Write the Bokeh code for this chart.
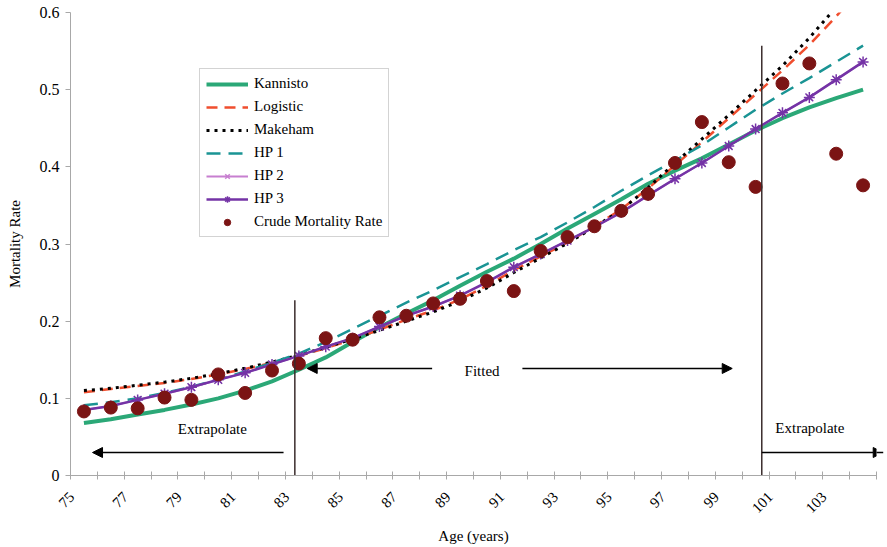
from bokeh.plotting import figure
from bokeh.models import FixedTicker, Arrow, NormalHead
from bokeh.core.properties import value
from bokeh.embed import file_html
from bokeh.resources import INLINE

# ---------------- data ----------------
ages = list(range(75, 105))

kannisto = [0.068, 0.073, 0.079, 0.085, 0.092, 0.100, 0.110, 0.122, 0.137, 0.153,
            0.173, 0.192, 0.210, 0.227, 0.246, 0.264, 0.281, 0.300, 0.320, 0.339,
            0.358, 0.378, 0.395, 0.411, 0.429, 0.447, 0.463, 0.477, 0.489, 0.500]

logistic = [0.108, 0.112, 0.116, 0.120, 0.125, 0.131, 0.138, 0.146, 0.155, 0.165,
            0.176, 0.189, 0.202, 0.214, 0.228, 0.246, 0.266, 0.284, 0.302, 0.323,
            0.345, 0.372, 0.402, 0.432, 0.463, 0.494, 0.525, 0.558, 0.595, 0.634]

makeham = [0.110, 0.113, 0.117, 0.121, 0.126, 0.132, 0.139, 0.147, 0.156, 0.166,
           0.177, 0.188, 0.200, 0.212, 0.226, 0.243, 0.263, 0.282, 0.301, 0.322,
           0.344, 0.373, 0.405, 0.436, 0.467, 0.499, 0.531, 0.567, 0.607, 0.650]

hp1 = [0.091, 0.095, 0.100, 0.107, 0.115, 0.124, 0.135, 0.146, 0.158, 0.173,
       0.190, 0.207, 0.224, 0.240, 0.257, 0.274, 0.292, 0.309, 0.328, 0.348,
       0.369, 0.389, 0.408, 0.428, 0.451, 0.474, 0.495, 0.515, 0.536, 0.557]

hp2 = [0.085, 0.090, 0.098, 0.106, 0.114, 0.124, 0.133, 0.144, 0.155, 0.167,
       0.178, 0.193, 0.207, 0.219, 0.233, 0.250, 0.270, 0.287, 0.304, 0.322,
       0.341, 0.363, 0.384, 0.405, 0.427, 0.449, 0.470, 0.490, 0.513, 0.536]

hp3 = [0.085, 0.090, 0.098, 0.106, 0.1145, 0.124, 0.133, 0.144, 0.155, 0.167,
       0.178, 0.193, 0.207, 0.219, 0.233, 0.2505, 0.270, 0.287, 0.3045, 0.322,
       0.341, 0.363, 0.3845, 0.405, 0.427, 0.449, 0.470, 0.490, 0.513, 0.536]

crude = [0.083, 0.088, 0.087, 0.101, 0.098, 0.131, 0.107, 0.136, 0.145, 0.178,
         0.176, 0.205, 0.207, 0.223, 0.229, 0.252, 0.239, 0.291, 0.309, 0.323,
         0.343, 0.365, 0.405, 0.458, 0.406, 0.374, 0.508, 0.534, 0.417, 0.376]

x_tick_ages = list(range(75, 104, 2))
x_tick_labels = [str(a) for a in x_tick_ages]
y_ticks = [0, 0.1, 0.2, 0.3, 0.4, 0.5, 0.6]
y_tick_labels = ["0", "0.1", "0.2", "0.3", "0.4", "0.5", "0.6"]

# fitted-range boundary lines (age position, top value)
bound_x = [82.85, 100.23]
bound_top = [0.227, 0.557]

# annotation texts
note_text = ["Extrapolate", "Fitted", "Extrapolate"]
note_x = [79.78, 89.82, 102.02]
note_y = [0.060, 0.136, 0.061]

# arrows: (x_start, x_end, y)
arrow_x0 = [82.43, 87.96, 91.32, 100.23]
arrow_x1 = [75.32, 83.31, 99.13, 104.75]
arrow_y = [0.0298, 0.1387, 0.1387, 0.0298]

SERIF = "'Liberation Serif', 'Times New Roman', serif"
LABEL_SHIFT = 0.45  # rotated labels sit slightly left of their category centre

p = figure(width=887, height=547, x_range=(74.5, 104.5), y_range=(0, 0.6),
           output_backend="svg", toolbar_location=None,
           min_border_left=70, min_border_right=11, min_border_top=12,
           min_border_bottom=72)
p.background_fill_color = "white"
p.border_fill_color = "white"
p.outline_line_color = None
p.xgrid.visible = False
p.ygrid.visible = False

AXC = "#a8a8a8"
# x axis
label_pos = [a - LABEL_SHIFT for a in x_tick_ages]
p.xaxis.ticker = FixedTicker(ticks=label_pos,
                             minor_ticks=[a - 0.5 for a in ages] + [ages[-1] + 0.5])
p.xaxis.major_label_overrides = {t: l for t, l in zip(label_pos, x_tick_labels)}
p.xaxis.major_tick_line_color = None
p.xaxis.major_tick_out = 0
p.xaxis.major_tick_in = 0
p.xaxis.minor_tick_line_color = AXC
p.xaxis.minor_tick_in = 4
p.xaxis.minor_tick_out = 4
p.xaxis.axis_line_color = AXC
p.xaxis.major_label_orientation = 0.785398
p.xaxis.major_label_standoff = 15
p.xaxis.axis_label = "Age (years)"
# y axis
p.yaxis.ticker = FixedTicker(ticks=y_ticks)
p.yaxis.major_label_overrides = {t: l for t, l in zip(y_ticks, y_tick_labels)}
p.yaxis.minor_tick_line_color = None
p.yaxis.major_tick_line_color = AXC
p.yaxis.major_tick_out = 5
p.yaxis.major_tick_in = 0
p.yaxis.axis_line_color = AXC
p.yaxis.major_label_standoff = 6
p.yaxis.axis_label = "Mortality Rate"

for ax in (p.xaxis, p.yaxis):
    ax.major_label_text_font = SERIF
    ax.major_label_text_color = "black"
    ax.axis_label_text_font = SERIF
    ax.axis_label_text_font_style = "normal"
    ax.axis_label_text_color = "black"
    ax.axis_label_text_font_size = "15px"
p.xaxis.major_label_text_font_size = "15px"
p.yaxis.major_label_text_font_size = "16px"
p.xaxis.axis_label_standoff = 8
p.yaxis.axis_label_standoff = 14

# series
p.line(ages, kannisto, color="#2BA877", line_width=4, legend_label="Kannisto")
p.line(ages, logistic, color="#F04E2E", line_width=2.5, line_dash="11 7",
       legend_label="Logistic")
p.line(ages, makeham, color="black", line_width=3, line_dash="3 5",
       legend_label="Makeham")
p.line(ages, hp1, color="#1A9494", line_width=2.5, line_dash="14 8",
       legend_label="HP 1")
p.line(ages, hp2, color="#C77FD0", line_width=2, legend_label="HP 2")
p.scatter(ages, hp2, marker="x", size=8, line_color="#C77FD0", line_width=1.5,
          legend_label="HP 2")
p.line(ages, hp3, color="#7433A6", line_width=2.5, legend_label="HP 3")
p.scatter(ages, hp3, marker="asterisk", size=11, line_color="#7433A6",
          line_width=1.5, legend_label="HP 3")
p.scatter(ages, crude, marker="circle", size=13, fill_color="#7B1414",
          line_color="#7B1414", legend_label="Crude Mortality Rate")

# boundaries
p.segment(x0=bound_x, y0=[0, 0], x1=bound_x, y1=bound_top,
          line_color="#3a2c2c", line_width=1.5)

# arrows
for xs, xe, yy in zip(arrow_x0, arrow_x1, arrow_y):
    p.add_layout(Arrow(end=NormalHead(size=10, fill_color="black", line_color="black"),
                       x_start=xs, y_start=yy, x_end=xe, y_end=yy,
                       line_color="black", line_width=1.5))

p.text(x=note_x, y=note_y, text=note_text, text_font=value(SERIF),
       text_font_size="15px", text_align="center", text_baseline="middle",
       text_color="black")

lg = p.legend[0]
lg.location = (129, 238)
lg.label_text_font = SERIF
lg.label_text_font_size = "15px"
lg.label_text_color = "black"
lg.glyph_width = 42
lg.glyph_height = 16
lg.label_height = 16
lg.label_standoff = 6
lg.spacing = 6
lg.padding = 6
lg.margin = 0
lg.border_line_color = "#a8a8a8"
lg.border_line_width = 1
lg.background_fill_color = "white"
lg.background_fill_alpha = 1

open("out.html", "w").write(file_html(p, INLINE))
